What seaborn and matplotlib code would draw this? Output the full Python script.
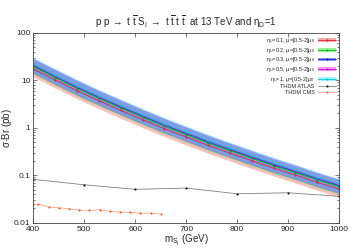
import seaborn as sns
import matplotlib.pyplot as plt
import pandas as pd
import numpy as np
from matplotlib.patches import Patch
from matplotlib.lines import Line2D
from matplotlib.ticker import LogLocator, NullFormatter, FixedLocator

# signal points (GeV)
mass = [400, 442.9, 485.7, 528.6, 571.4, 614.3, 657.1, 700,
        742.9, 785.7, 828.6, 871.4, 914.3, 957.1, 1000]

# central sigma*Br (pb) for each eta_U
xs_01 = [17.2, 10.1, 6.0, 3.7, 2.32, 1.48, 0.955, 0.637, 0.425, 0.293, 0.202, 0.1415, 0.101, 0.0708, 0.0512]
xs_02 = [19.3, 11.3, 6.7, 4.15, 2.6, 1.66, 1.07, 0.713, 0.476, 0.328, 0.226, 0.158, 0.113, 0.0793, 0.0573]
xs_03 = [20.5, 12.0, 7.15, 4.4, 2.76, 1.76, 1.14, 0.758, 0.506, 0.349, 0.240, 0.168, 0.120, 0.0843, 0.0609]
xs_05 = [21.0, 12.3, 7.3, 4.5, 2.83, 1.81, 1.165, 0.777, 0.519, 0.357, 0.246, 0.173, 0.123, 0.0864, 0.0625]
xs_1 = [21.5, 12.6, 7.5, 4.6, 2.9, 1.85, 1.19, 0.80, 0.53, 0.366, 0.253, 0.177, 0.126, 0.0885, 0.064]

# scale variation mu=[0.5-2]mu0, relative to central value
scale_hi = [1.40, 1.40, 1.40, 1.39, 1.39, 1.38, 1.38, 1.37, 1.37, 1.36, 1.36, 1.35, 1.35, 1.34, 1.34]
scale_lo = [0.68, 0.68, 0.68, 0.68, 0.68, 0.68, 0.68, 0.68, 0.68, 0.68, 0.68, 0.68, 0.68, 0.68, 0.68]

# limits
atlas_m = [400, 500, 600, 700, 800, 900, 1000]
atlas_xs = [0.082, 0.063, 0.0505, 0.0537, 0.0407, 0.0428, 0.0360]
cms_m = [400, 410, 430, 450, 470, 490, 510, 530, 550, 570, 590, 610, 630, 650]
cms_xs = [0.0245, 0.0244, 0.0217, 0.0207, 0.0197, 0.0185, 0.0182, 0.0188, 0.0174,
          0.0168, 0.0166, 0.0160, 0.0158, 0.0152]

labels = [r'$\eta_U$=0.1, $\mu$=[0.5-2]$\mu_0$', r'$\eta_U$=0.2, $\mu$=[0.5-2]$\mu_0$',
          r'$\eta_U$=0.3, $\mu$=[0.5-2]$\mu_0$', r'$\eta_U$=0.5, $\mu$=[0.5-2]$\mu_0$',
          r'$\eta_U$=1, $\mu$=[0.5-2]$\mu_0$']
line_colors = ['#e0203a', '#00c000', '#2020d0', '#d000d0', '#00c8e0']
band_colors = ['#ff8080', '#70e870', '#5070e0', '#f070f0', '#80f0ff']

sns.set_style("ticks")
plt.rcParams['font.family'] = ['Liberation Sans', 'DejaVu Sans']
plt.rcParams['mathtext.fontset'] = 'custom'
plt.rcParams['mathtext.rm'] = 'Liberation Sans'
plt.rcParams['mathtext.it'] = 'Liberation Sans'

fig = plt.figure(figsize=(3.5, 2.5), dpi=100)
ax = fig.add_axes([0.095, 0.109, 0.874, 0.760])

series = [xs_01, xs_02, xs_03, xs_05, xs_1]
rows = []
for lab, ys in zip(labels, series):
    for m, y in zip(mass, ys):
        rows.append({"m": m, "xs": y, "lab": lab})
df = pd.DataFrame(rows)

# bands: blue last so it dominates like the reference
for i in [0, 1, 3, 4, 2]:
    ys = np.array(series[i])
    ax.fill_between(mass, ys * np.array(scale_lo), ys * np.array(scale_hi),
                    color=band_colors[i], alpha=0.5, lw=0)

handles = []
for i, lab in enumerate(labels):
    sub = df[df.lab == lab]
    sns.lineplot(data=sub, x="m", y="xs", ax=ax, color=line_colors[i], lw=0.6,
                 marker='o', markersize=1.6, markeredgewidth=0, legend=False)
    handles.append((Patch(facecolor=band_colors[i], alpha=0.7, lw=0),
                    Line2D([], [], color=line_colors[i], lw=0.6, marker='o',
                           markersize=1.6, markeredgewidth=0)))

sns.lineplot(x=atlas_m, y=atlas_xs, ax=ax, color='#808080', lw=0.6, marker='o',
             markersize=1.5, markerfacecolor='black', markeredgewidth=0)
sns.lineplot(x=cms_m, y=cms_xs, ax=ax, color='#ffa880', lw=0.6, marker='o',
             markersize=1.5, markerfacecolor='#ff5020', markeredgewidth=0)
handles.append(Line2D([], [], color='#808080', lw=0.6, marker='o', markersize=1.5,
                      markerfacecolor='black', markeredgewidth=0))
handles.append(Line2D([], [], color='#ffa880', lw=0.6, marker='o', markersize=1.5,
                      markerfacecolor='#ff5020', markeredgewidth=0))

ax.set_yscale('log')
ax.set_xlim(400, 1000)
ax.set_ylim(0.01, 100)
ax.xaxis.set_major_locator(FixedLocator([400, 500, 600, 700, 800, 900, 1000]))
ax.set_yticks([0.01, 0.1, 1, 10, 100])
ax.set_yticklabels(['0.01', '0.1', '1', '10', '100'])
ax.yaxis.set_minor_locator(LogLocator(base=10, subs=np.arange(2, 10)))
ax.yaxis.set_minor_formatter(NullFormatter())
ax.tick_params(which='both', direction='in', top=True, right=True, labelsize=6, pad=2,
               width=0.5, color='#444444')
ax.tick_params(which='major', length=3)
ax.tick_params(which='minor', length=1.5)
for s in ax.spines.values():
    s.set_linewidth(0.6)
    s.set_color('#444444')

ax.set_xlabel(r'm$_{S_I}$ (GeV)', fontsize=7, labelpad=0)
ax.set_ylabel(r'$\sigma$$\cdot$Br (pb)', fontsize=7)
ax.yaxis.set_label_coords(-0.062, 0.5)
ax.set_title(r'p p $\rightarrow$ t $\overline{\rm t}$ S$_{\rm I}$ $\rightarrow$ '
             r't $\overline{\rm t}$ t $\overline{\rm t}$  at 13 TeV and $\eta_{\rm D}$=1',
             fontsize=7, pad=5)

all_labels = labels + ['THDM ATLAS', 'THDM CMS']
leg = ax.legend(handles, all_labels, loc='upper right', fontsize=4, frameon=False,
                markerfirst=False, handlelength=3.2, handleheight=0.7,
                labelspacing=0.12, borderaxespad=0.2, handletextpad=0.6)

fig.savefig('out.png', dpi=100)
